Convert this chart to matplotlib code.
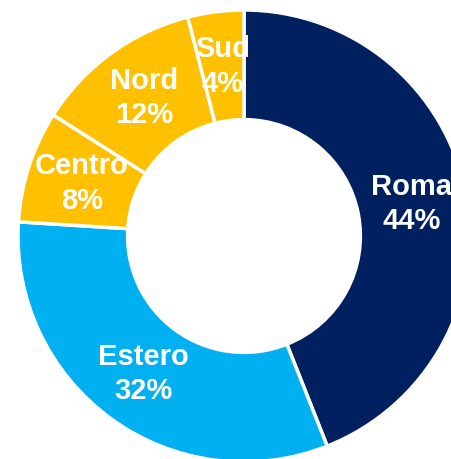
import matplotlib.pyplot as plt
import numpy as np

labels = ["Roma", "Estero", "Sud", "Nord", "Centro"]
shares = [44, 32, 4, 12, 8]
colors = ["#002060", "#00B0F0", "#FFC000", "#FFC000", "#FFC000"]

# order as drawn clockwise from 12 o'clock: Roma, Estero, Centro, Nord, Sud
order = [0, 1, 4, 3, 2]
labels = [labels[i] for i in order]
shares = [shares[i] for i in order]
colors = [colors[i] for i in order]

plt.rcParams["font.family"] = ["Liberation Sans", "DejaVu Sans"]

W, H = 452, 459
fig = plt.figure(figsize=(W / 100, H / 100), dpi=100)
ax = fig.add_axes([0, 0, 1, 1])

wedges, _ = ax.pie(
    shares,
    colors=colors,
    startangle=90,
    counterclock=False,
    radius=1.0,
    wedgeprops=dict(width=0.485, edgecolor="white", linewidth=2.5),
)

total = sum(shares)
cum = 0
for lab, val in zip(labels, shares):
    mid = (cum + val / 2) / total * 2 * np.pi
    cum += val
    r = 0.755
    x, y = r * np.sin(mid), r * np.cos(mid)
    ax.text(x, y, f"{lab}\n{val}%", ha="center", va="center",
            color="white", fontsize=21, fontweight="bold", linespacing=1.3)

# centre of the ring sits at (244, 236) px, radius 226 px
cx, cy, R = 244, 236, 226
ax.set_xlim(-cx / R, (W - cx) / R)
ax.set_ylim(-(H - cy) / R, cy / R)
ax.set_aspect("auto")
ax.axis("off")

fig.savefig("out.png", dpi=100)
